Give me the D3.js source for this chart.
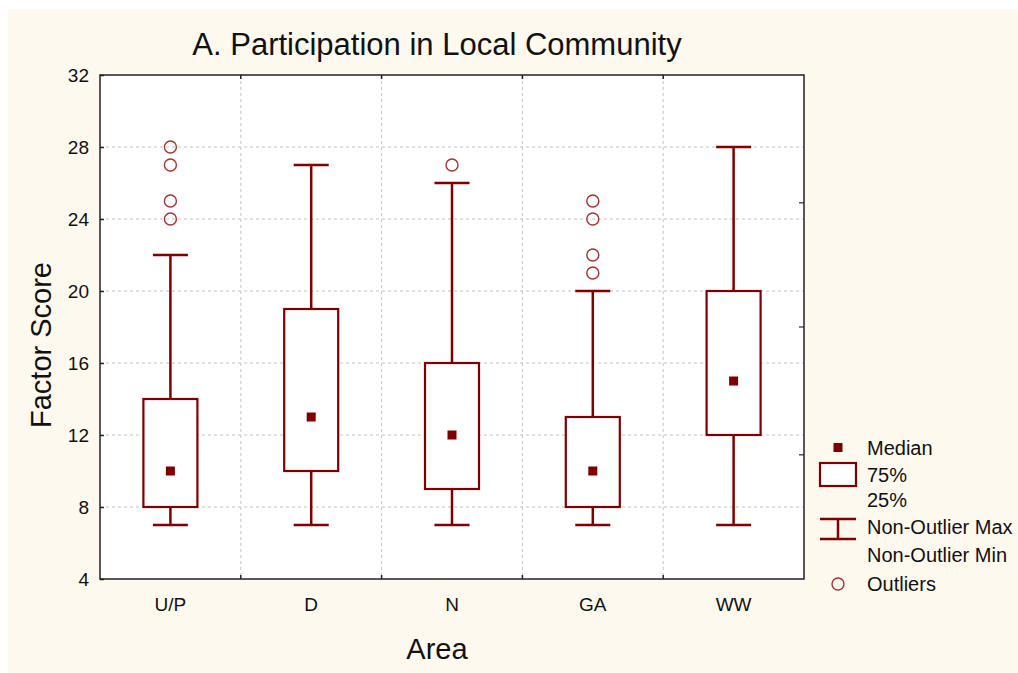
<!DOCTYPE html>
<html>
<head>
<meta charset="utf-8">
<script src="https://cdn.jsdelivr.net/npm/d3@7"></script>
<style>
  html, body { margin: 0; padding: 0; background: #ffffff; }
  svg { display: block; }
  text { font-family: "Liberation Sans", Arial, sans-serif; fill: #111; }
</style>
</head>
<body>
<svg id="chart" width="1018" height="673"></svg>
<script>
// Factor score summaries per area
const areas     = ["U/P", "D", "N", "GA", "WW"];
const minVals   = [7, 7, 7, 7, 7];
const q1Vals    = [8, 10, 9, 8, 12];
const medians   = [10, 13, 12, 10, 15];
const q3Vals    = [14, 19, 16, 13, 20];
const maxVals   = [22, 27, 26, 20, 28];
const outliers  = [[24, 25, 27, 28], [], [27], [21, 22, 24, 25], []];
const yTicks    = [4, 8, 12, 16, 20, 24, 28, 32];
const rightTicks = [24.9, 18, 10.9];

const dark = "#800000";
const outlierColor = "#a83232";

const svg = d3.select("#chart");
const W = 1018, H = 673;

// page background
svg.append("rect").attr("x", 8).attr("y", 9).attr("width", W - 8).attr("height", H - 9)
  .attr("fill", "#fef9ee");

const pL = 100, pR = 804, pT = 75, pB = 579;

const x = d3.scaleBand().domain(areas).range([pL, pR]).padding(0);
const y = d3.scaleLinear().domain([4, 32]).range([pB, pT]);

// plot area
svg.append("rect").attr("x", pL).attr("y", pT)
  .attr("width", pR - pL).attr("height", pB - pT).attr("fill", "#ffffff");

// grid lines
const grid = svg.append("g");
grid.selectAll("line.h").data(yTicks.filter(v => v > 4 && v < 32)).join("line")
  .attr("x1", pL).attr("x2", pR)
  .attr("y1", d => y(d)).attr("y2", d => y(d))
  .attr("stroke", "#c4c4c4").attr("stroke-width", 1).attr("stroke-dasharray", "3,3");
grid.selectAll("line.v").data(areas.slice(1)).join("line")
  .attr("x1", d => x(d)).attr("x2", d => x(d))
  .attr("y1", pT).attr("y2", pB)
  .attr("stroke", "#c4c4c4").attr("stroke-width", 1).attr("stroke-dasharray", "3,3");

// axes
const yAxis = d3.axisLeft(y).tickValues(yTicks).tickSizeInner(-4).tickSizeOuter(0).tickPadding(11);
const gy = svg.append("g").attr("transform", `translate(${pL},0)`).call(yAxis);
gy.selectAll("text").style("font-size", "19px").attr("fill", "#111");
gy.selectAll(".tick line").attr("stroke", "#222").attr("stroke-width", 1.5);

const gx = svg.append("g").attr("transform", `translate(0,${pB})`)
  .call(d3.axisBottom(x).tickSize(0).tickPadding(19));
gx.selectAll("text").style("font-size", "19px").attr("fill", "#111");

// category boundary ticks on top and bottom edges
const boundaries = areas.slice(1).map(d => x(d));
svg.append("g").selectAll("line").data(boundaries).join("line")
  .attr("x1", d => d).attr("x2", d => d).attr("y1", pB).attr("y2", pB - 4)
  .attr("stroke", "#222").attr("stroke-width", 1.5);
svg.append("g").selectAll("line").data(boundaries).join("line")
  .attr("x1", d => d).attr("x2", d => d).attr("y1", pT).attr("y2", pT + 4)
  .attr("stroke", "#222").attr("stroke-width", 1.5);

// right edge ticks
svg.append("g").selectAll("line").data(rightTicks).join("line")
  .attr("x1", pR).attr("x2", pR - 5).attr("y1", d => y(d)).attr("y2", d => y(d))
  .attr("stroke", "#555").attr("stroke-width", 1.5);

// frame
svg.append("rect").attr("x", pL).attr("y", pT)
  .attr("width", pR - pL).attr("height", pB - pT)
  .attr("fill", "none").attr("stroke", "#222").attr("stroke-width", 1.5);
[gx, gy].forEach(g => g.select(".domain").remove());

// boxes
const data = areas.map((a, i) => ({
  a, min: minVals[i], q1: q1Vals[i], med: medians[i], q3: q3Vals[i], max: maxVals[i], out: outliers[i]
}));
const boxW = 54, capW = 35, medS = 9;
const cx = d => x(d.a) + x.bandwidth() / 2;

const g = svg.append("g");
g.selectAll("line.wup").data(data).join("line")
  .attr("x1", cx).attr("x2", cx).attr("y1", d => y(d.q3)).attr("y2", d => y(d.max))
  .attr("stroke", dark).attr("stroke-width", 2.5);
g.selectAll("line.wdn").data(data).join("line")
  .attr("x1", cx).attr("x2", cx).attr("y1", d => y(d.q1)).attr("y2", d => y(d.min))
  .attr("stroke", dark).attr("stroke-width", 2.5);
g.selectAll("line.cmax").data(data).join("line")
  .attr("x1", d => cx(d) - capW / 2).attr("x2", d => cx(d) + capW / 2)
  .attr("y1", d => y(d.max)).attr("y2", d => y(d.max))
  .attr("stroke", dark).attr("stroke-width", 2.5);
g.selectAll("line.cmin").data(data).join("line")
  .attr("x1", d => cx(d) - capW / 2).attr("x2", d => cx(d) + capW / 2)
  .attr("y1", d => y(d.min)).attr("y2", d => y(d.min))
  .attr("stroke", dark).attr("stroke-width", 2.5);
g.selectAll("rect.box").data(data).join("rect")
  .attr("x", d => cx(d) - boxW / 2).attr("width", boxW)
  .attr("y", d => y(d.q3)).attr("height", d => y(d.q1) - y(d.q3))
  .attr("fill", "#ffffff").attr("stroke", dark).attr("stroke-width", 2.2);
g.selectAll("rect.med").data(data).join("rect")
  .attr("x", d => cx(d) - medS / 2).attr("y", d => y(d.med) - medS / 2)
  .attr("width", medS).attr("height", medS).attr("fill", dark);
g.selectAll("g.out").data(data).join("g")
  .each(function(d) {
    d3.select(this).selectAll("circle").data(d.out).join("circle")
      .attr("cx", cx(d)).attr("cy", v => y(v)).attr("r", 6)
      .attr("fill", "none").attr("stroke", outlierColor).attr("stroke-width", 1.4);
  });

// titles
svg.append("text").attr("x", 437).attr("y", 55).attr("text-anchor", "middle")
  .style("font-size", "31px").text("A. Participation in Local Community");
svg.append("text").attr("transform", "translate(51,345) rotate(-90)").attr("text-anchor", "middle")
  .style("font-size", "29px").text("Factor Score");
svg.append("text").attr("x", 437).attr("y", 659).attr("text-anchor", "middle")
  .style("font-size", "29px").text("Area");

// legend
const lg = svg.append("g").style("font-size", "20px");
const lx = 838, tx = 867;
lg.append("rect").attr("x", lx - 4.5).attr("y", 443).attr("width", 9).attr("height", 9).attr("fill", dark);
lg.append("text").attr("x", tx).attr("y", 455).text("Median");
lg.append("rect").attr("x", 820).attr("y", 463).attr("width", 36).attr("height", 23)
  .attr("fill", "#ffffff").attr("stroke", dark).attr("stroke-width", 2.2);
lg.append("text").attr("x", tx).attr("y", 482).text("75%");
lg.append("text").attr("x", tx).attr("y", 507).text("25%");
lg.append("line").attr("x1", 820).attr("x2", 856).attr("y1", 519).attr("y2", 519).attr("stroke", dark).attr("stroke-width", 2.5);
lg.append("line").attr("x1", 820).attr("x2", 856).attr("y1", 539).attr("y2", 539).attr("stroke", dark).attr("stroke-width", 2.5);
lg.append("line").attr("x1", lx).attr("x2", lx).attr("y1", 519).attr("y2", 539).attr("stroke", dark).attr("stroke-width", 2.5);
lg.append("text").attr("x", tx).attr("y", 534).text("Non-Outlier Max");
lg.append("text").attr("x", tx).attr("y", 562).text("Non-Outlier Min");
lg.append("circle").attr("cx", lx).attr("cy", 584).attr("r", 6).attr("fill", "none")
  .attr("stroke", outlierColor).attr("stroke-width", 1.4);
lg.append("text").attr("x", tx).attr("y", 591).text("Outliers");
</script>
</body>
</html>
